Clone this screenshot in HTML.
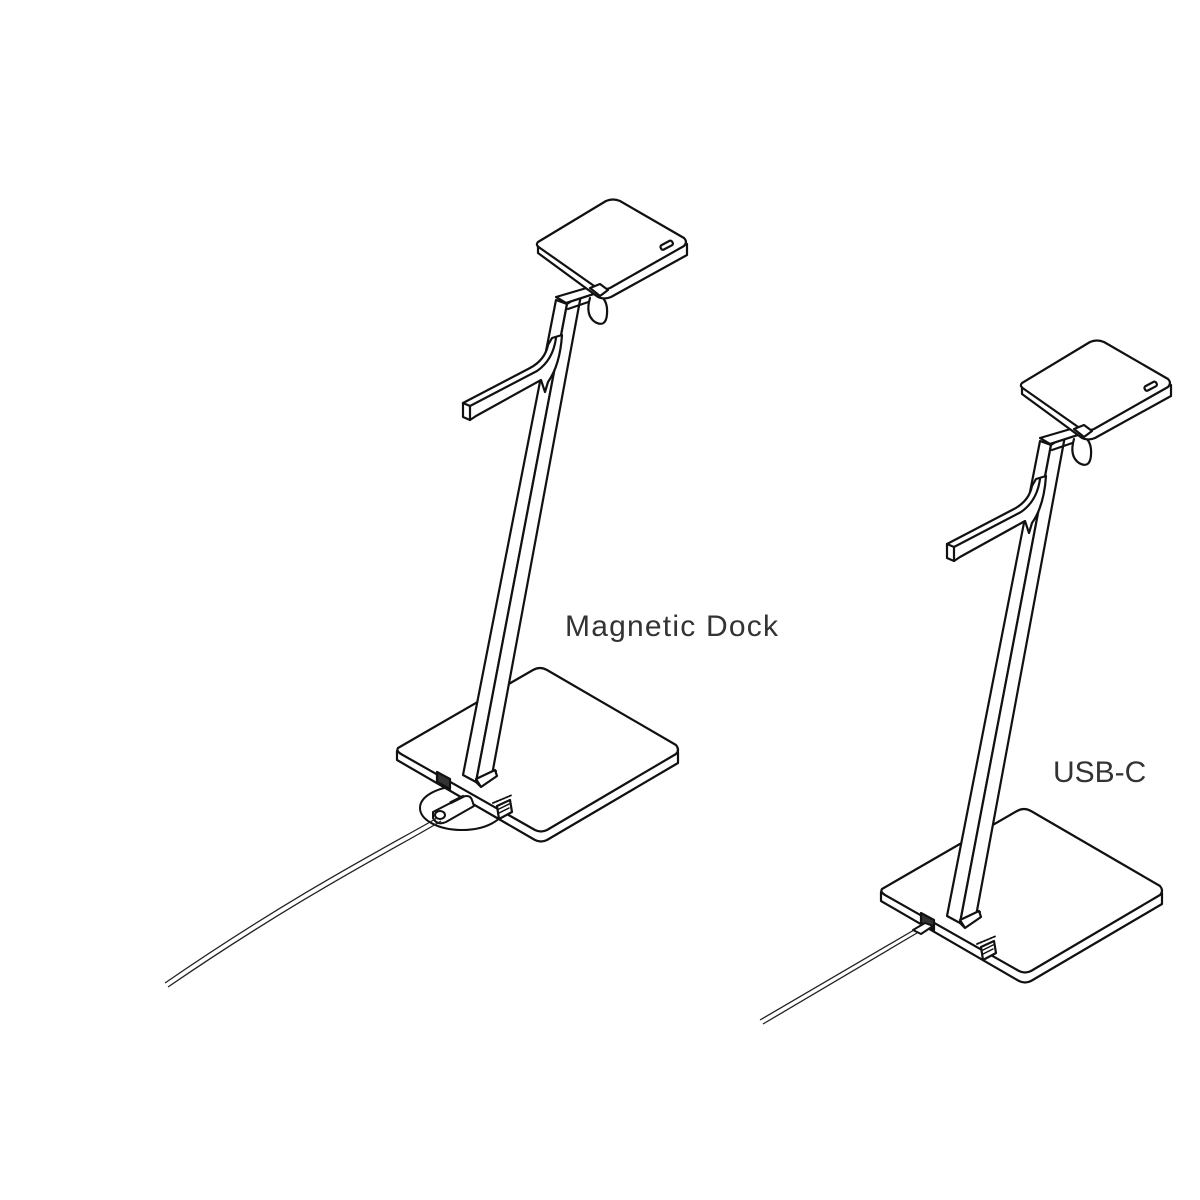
<!DOCTYPE html>
<html><head><meta charset="utf-8"><style>
html,body{margin:0;padding:0;background:#fff;}
svg{display:block;}
text{font-family:"Liberation Sans",sans-serif;fill:#333;}
</style></head><body>
<svg width="1200" height="1200" viewBox="0 0 1200 1200" xmlns="http://www.w3.org/2000/svg">
<defs>
<g id="lamp" fill="#fff" stroke="#111" stroke-width="2.2" stroke-linejoin="round" stroke-linecap="round">
  <path d="M397,751 L397,760 L535,840 Q541,843 547,840 L678,763 L678,752 Z"/>
  <path d="M398,748 L533,670 Q540,666 547,670 L676,745 Q680,750 676,754 L547,830 Q541,833 535,830 L401,754 Q396,751 398,748 Z"/>
  <path d="M437,772 L450,779 L450,789 L437,782 Z" fill="#333"/>
  <path d="M497,806 L510,800 L512,812 L499,819 Z" fill="#fff"/>
  <path d="M499,809 L509,804 M499,813 L509,808" stroke-width="1.5"/>
  <path d="M493,803 L512,795" stroke-width="1.8" stroke-dasharray="2 1.5"/>
  <path d="M556,300 L463,775 L476,782 L567,304 Z"/>
  <path d="M567,304 L476,782 L492,775 L581,295 Z"/>
  <path d="M476,782 L492,775 L496,771 L480,786 Z"/>
  <path d="M476,779 L495,770 L497,776 L481,787 Z"/>
  <path d="M552,338 L562,335 Q560,365 548,382 L545,392 L541,380 L476,416 L470,420 L463,417 L463,403 L530,368 Q545,360 548,345 Z"/>
  <path d="M463,403 L470,406 L470,420 M470,406 L537,371 Q553,360 556,338" fill="none"/>
  <path d="M556,297 L590,287 L600,292 L566,303 Z"/>
  <path d="M566,303 L600,292 L600,298 L568,309" fill="none"/>
  <path d="M590,298 Q585,315 595,322 Q606,328 607,314 Q608,302 601,296" />
  <path d="M538,244 L538,253 L598,297 Q604,300 611,297 L687,255 L687,244 Z"/>
  <path d="M538,242 L606,201 Q613,198 620,201 L684,238 Q688,242 684,246 L610,288 Q603,291 597,288 L540,248 Q535,245 538,242 Z"/>
  <rect x="660" y="243" width="13" height="5" rx="2" transform="rotate(-28 666 245)" fill="#fff"/>
  <path d="M590,288 L600,284 L608,290 L600,296 Z"/>
</g>
</defs>

<ellipse cx="462" cy="808" rx="42" ry="22" fill="#fff" stroke="#111" stroke-width="2"/>
<use href="#lamp"/>
<g fill="#fff" stroke="#111" stroke-width="2" stroke-linejoin="round">
  <path d="M433,812 L462,797 Q470,794 472,800 L474,806 L446,822 Q437,826 433,818 Z"/>
  <ellipse cx="440" cy="815" rx="5" ry="4"/>
  <path d="M450,803 L464,796" stroke-width="3"/>
</g>
<path d="M437,818 C400,840 300,890 165,983" fill="none" stroke="#222" stroke-width="1.3"/>
<path d="M441,821 C404,844 305,893 168,987" fill="none" stroke="#222" stroke-width="1.3"/>

<use href="#lamp" transform="translate(484,141)"/>
<g fill="#fff" stroke="#111" stroke-width="2" stroke-linejoin="round">
  <path d="M913,930 L925,923 L933,926 L921,934 Z"/>
</g>
<path d="M914,930 L760,1020" fill="none" stroke="#222" stroke-width="1.3"/>
<path d="M917,933 L763,1024" fill="none" stroke="#222" stroke-width="1.3"/>

<text x="565" y="636" font-size="30" textLength="213" lengthAdjust="spacing">Magnetic Dock</text>
<text x="1053" y="782" font-size="30">USB-C</text>
</svg>
</body></html>
